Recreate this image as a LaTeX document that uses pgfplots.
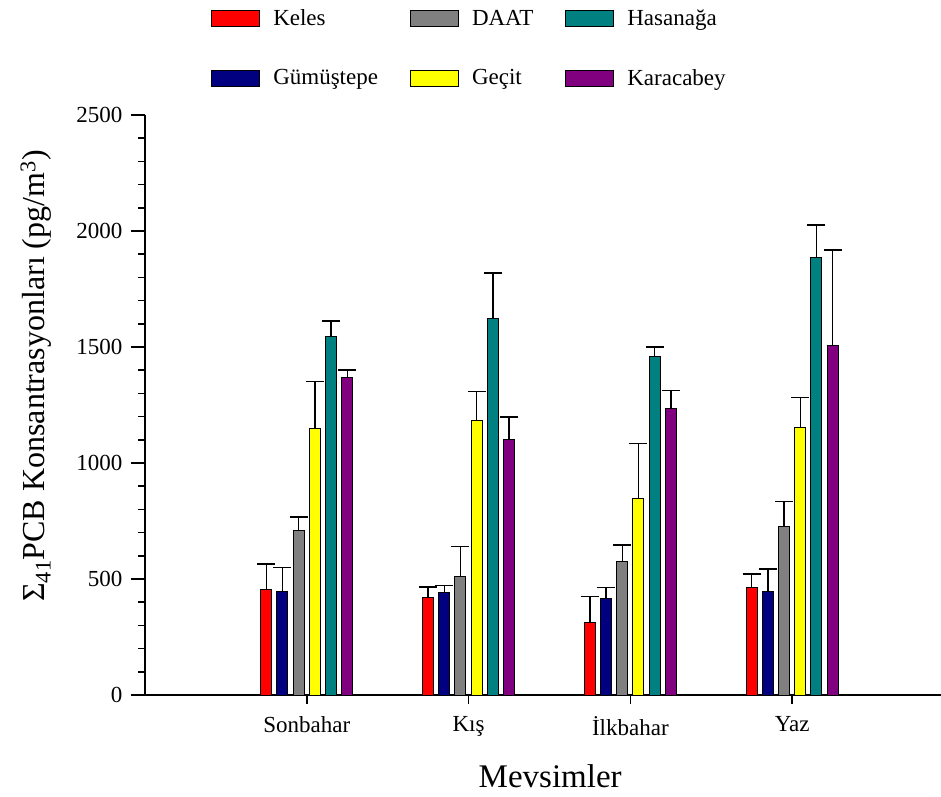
\documentclass[border=0pt]{standalone}
\usepackage{pgfplots}
\pgfplotsset{compat=1.18}
\usepackage{fontspec}
\setmainfont{Liberation Serif}
\definecolor{cKeles}{RGB}{255,0,0}
\definecolor{cGum}{RGB}{0,0,128}
\definecolor{cDAAT}{RGB}{128,128,128}
\definecolor{cGecit}{RGB}{255,255,0}
\definecolor{cHasan}{RGB}{0,128,128}
\definecolor{cKara}{RGB}{128,0,128}
\begin{document}
\begin{tikzpicture}
\path[use as bounding box] (0pt,0pt) rectangle (941pt,796pt);
\begin{axis}[
  at={(145pt,101pt)}, anchor=origin,
  scale only axis, width=796pt, height=580pt,
  xmin=0, xmax=4.92, ymin=0, ymax=2500,
  axis x line*=bottom, axis y line*=left,
  axis line style={line width=1.5pt, black},
  ybar=5.2pt, bar width=11pt,
  xtick={1,2,3,4},
  xticklabels={Sonbahar,Kış,İlkbahar,Yaz},
  ytick={0,500,1000,1500,2000,2500},
  minor y tick num=4,
  tick align=outside,
  major tick length=14pt, minor tick length=7pt,
  xtick style={/pgfplots/major tick length=9pt},
  tick style={line width=1.5pt, black},
  /pgf/number format/assume math mode=true,
  /pgf/number format/1000 sep={},
  yticklabel style={font=\rmfamily\fontsize{23}{27}\selectfont, xshift=-5pt},
  xticklabel style={font=\rmfamily\fontsize{23}{27}\selectfont, yshift=-4pt},
  ylabel={Σ\textsubscript{41}PCB Konsantrasyonları (pg/m\textsuperscript{3})},
  xlabel={Mevsimler},
  ylabel style={font=\rmfamily\fontsize{32}{36}\selectfont, at={(axis description cs:-0.137,0.55)}, anchor=center, rotate=0},
  xlabel style={font=\rmfamily\fontsize{33}{38}\selectfont, at={(axis description cs:0.509,-0.14)}, anchor=center},
  legend image code/.code={\draw[#1, draw=black, line width=1pt] (0pt,-8pt) rectangle (48pt,8pt);},
  legend columns=2, transpose legend,
  legend style={at={(axis description cs:0.083,1.185)}, anchor=north west, draw=none, fill=none, inner sep=0pt,
    font=\rmfamily\fontsize{23}{27}\selectfont,
    /tikz/every even column/.append style={column sep=30pt},
    /tikz/every odd column/.append style={column sep=11pt},
    row sep=38pt,
    legend cell align=left},
  error bars/y dir=plus, error bars/y explicit,
  error bars/error bar style={line width=1.5pt, black},
  error bars/error mark options={rotate=90, mark size=9pt, line width=1.5pt, black},
  every axis plot/.append style={draw=black, line width=1pt},
]
\addplot[fill=cKeles] table[x=x, y=y, y error=e] {
x y e
1 455 110
2 422 44
3 313 111
4 464 58
};
\addplot[fill=cGum] table[x=x, y=y, y error=e] {
x y e
1 444 105
2 441 30
3 417 46
4 445 98
};
\addplot[fill=cDAAT] table[x=x, y=y, y error=e] {
x y e
1 711 56
2 509 132
3 575 72
4 727 108
};
\addplot[fill=cGecit] table[x=x, y=y, y error=e] {
x y e
1 1147 205
2 1184 125
3 848 237
4 1152 131
};
\addplot[fill=cHasan] table[x=x, y=y, y error=e] {
x y e
1 1544 68
2 1622 196
3 1461 40
4 1885 141
};
\addplot[fill=cKara] table[x=x, y=y, y error=e] {
x y e
1 1368 32
2 1103 95
3 1234 78
4 1506 413
};
\legend{Keles,Gümüştepe,DAAT,Geçit,Hasanağa,Karacabey}
\end{axis}
\end{tikzpicture}
\end{document}
